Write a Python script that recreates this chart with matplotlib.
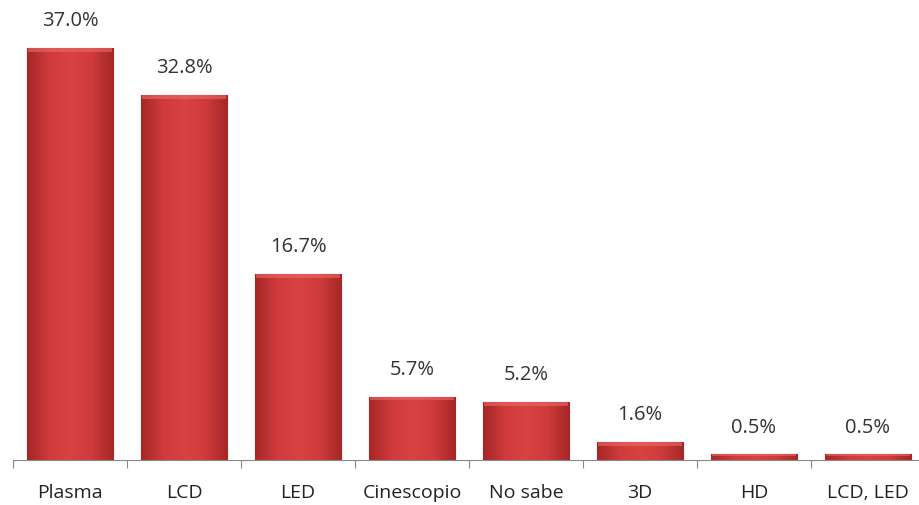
import matplotlib
matplotlib.use("Agg")
import matplotlib.pyplot as plt
import numpy as np
from matplotlib.colors import LinearSegmentedColormap

categories = ["Plasma", "LCD", "LED", "Cinescopio", "No sabe", "3D", "HD", "LCD, LED"]
values = [37.0, 32.8, 16.7, 5.7, 5.2, 1.6, 0.5, 0.5]
labels = ["37.0%", "32.8%", "16.7%", "5.7%", "5.2%", "1.6%", "0.5%", "0.5%"]

plt.rcParams['font.family'] = ['Open Sans', 'DejaVu Sans']

fig = plt.figure(figsize=(9.19, 5.05), dpi=100)
ax = fig.add_axes([13/919, 45/505, 912/919, 460/505])
n = len(categories)
x = np.arange(n)
ax.set_xlim(-0.5, n - 0.5)
ax.set_ylim(0, 41.3)

width = 0.76
bars = ax.bar(x, values, width=width, color='#c83434', edgecolor='#8a2222', linewidth=0.8, zorder=2)

cmap = LinearSegmentedColormap.from_list('bev', ['#a52727', '#cf3a3a', '#d84242', '#cf3a3a', '#a52727'])
grad = np.linspace(0, 1, 200).reshape(1, -1)
for b, v in zip(bars, values):
    x0 = b.get_x()
    im = ax.imshow(grad, extent=[x0, x0 + width, 0, v], aspect='auto', cmap=cmap, zorder=2.5)
    im.set_clip_path(b)
    h = min(0.35, v * 0.3)
    ax.bar(x0 + width / 2, h, width=width * 0.96, bottom=v - h, color='#ea6a6a', alpha=0.6, linewidth=0, zorder=3)

for xi, v, lab in zip(x, values, labels):
    ax.text(xi, v + 1.5, lab, ha='center', va='bottom', fontsize=14.5, color='#333333')

for s in ['top', 'right', 'left']:
    ax.spines[s].set_visible(False)
ax.spines['bottom'].set_color('#888888')
ax.set_yticks([])
ax.set_xticks(np.arange(-0.5, n, 1.0), minor=False)
ax.set_xticklabels([])
ax.tick_params(axis='x', which='major', length=6, color='#888888', direction='out')
ax.set_xticks(x, minor=True)
ax.set_xticklabels(categories, minor=True, fontsize=14, color='#222222')
ax.tick_params(axis='x', which='minor', length=0, pad=17)

fig.savefig("out.png", dpi=100)
